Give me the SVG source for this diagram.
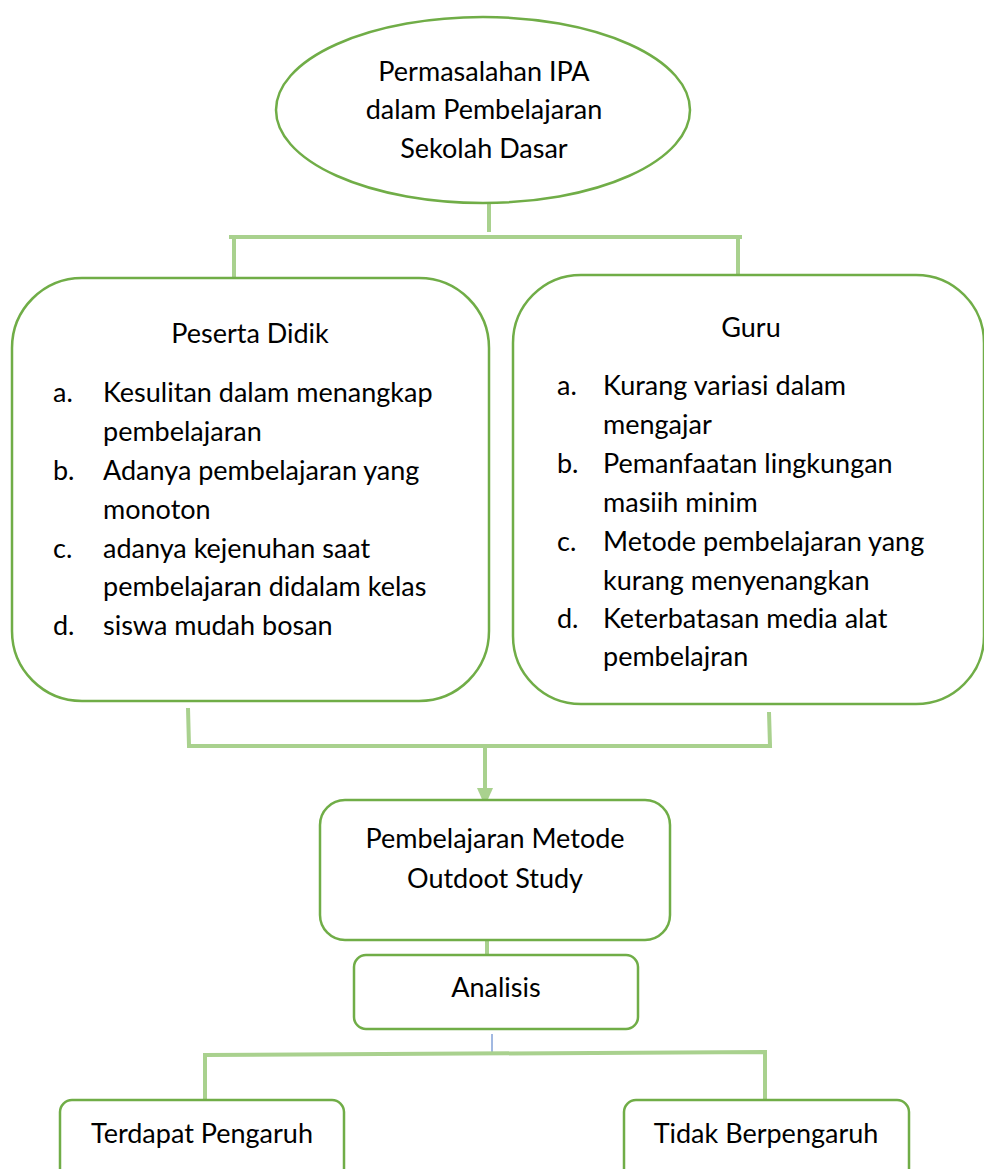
<svg xmlns="http://www.w3.org/2000/svg" width="984" height="1169" viewBox="0 0 984 1169">
<defs>
<style>
.box{fill:#fff;stroke:#70AD47;stroke-width:2.5}
.con{fill:none;stroke:#A9D18E;stroke-width:4}
text{font-family:Lato,"Liberation Sans",sans-serif;font-size:27px;fill:#000}
.c{text-anchor:middle}
</style>
</defs>
<rect width="984" height="1169" fill="#fff"/>
<g id="connectors">
<path class="con" d="M489,203 V232"/>
<path class="con" d="M229,237 H742"/>
<path class="con" d="M234,236 V277"/>
<path class="con" d="M738,236 V275"/>
<path class="con" d="M188,708 L189,746 H770 L769,712"/>
<path class="con" d="M485,746 V790"/>
<path d="M477,788 L493,788 L485,806 z" fill="#A9D18E"/>
<path class="con" d="M487,940 V955"/>
<path d="M492,1034 V1052" stroke="#4472C4" stroke-width="1" fill="none"/>
<path class="con" d="M205,1100 V1055 L765,1052 V1100"/>
</g>
<g id="node-top">
<ellipse class="box" cx="483" cy="110" rx="207" ry="93"/>
<text class="c" x="484" y="81">Permasalahan IPA</text>
<text class="c" x="484" y="119">dalam Pembelajaran</text>
<text class="c" x="484" y="158">Sekolah Dasar</text>
</g>
<g id="node-peserta">
<rect class="box" x="12" y="278" width="477" height="423" rx="70"/>
<text class="c" x="250" y="343">Peserta Didik</text>
<text x="53" y="402">a.</text><text x="103" y="402">Kesulitan dalam menangkap</text>
<text x="103" y="441">pembelajaran</text>
<text x="53" y="480">b.</text><text x="103" y="480">Adanya pembelajaran yang</text>
<text x="103" y="519">monoton</text>
<text x="53" y="558">c.</text><text x="103" y="558">adanya kejenuhan saat</text>
<text x="103" y="596">pembelajaran didalam kelas</text>
<text x="53" y="635">d.</text><text x="103" y="635">siswa mudah bosan</text>
</g>
<g id="node-guru">
<rect class="box" x="513" y="275" width="471" height="429" rx="68"/>
<text class="c" x="751" y="337">Guru</text>
<text x="557" y="395">a.</text><text x="603" y="395">Kurang variasi dalam</text>
<text x="603" y="434">mengajar</text>
<text x="557" y="473">b.</text><text x="603" y="473">Pemanfaatan lingkungan</text>
<text x="603" y="512">masiih minim</text>
<text x="557" y="551">c.</text><text x="603" y="551">Metode pembelajaran yang</text>
<text x="603" y="590">kurang menyenangkan</text>
<text x="557" y="628">d.</text><text x="603" y="628">Keterbatasan media alat</text>
<text x="603" y="666">pembelajran</text>
</g>
<g id="node-metode">
<rect class="box" x="320" y="800" width="350" height="140" rx="25"/>
<text class="c" x="495" y="848">Pembelajaran Metode</text>
<text class="c" x="495" y="888">Outdoot Study</text>
</g>
<g id="node-analisis">
<rect class="box" x="354" y="955" width="284" height="74" rx="12"/>
<text class="c" x="496" y="997">Analisis</text>
</g>
<g id="node-terdapat">
<rect class="box" x="60" y="1100" width="284" height="90" rx="12"/>
<text class="c" x="202" y="1143">Terdapat Pengaruh</text>
</g>
<g id="node-tidak">
<rect class="box" x="624" y="1100" width="285" height="90" rx="12"/>
<text class="c" x="766" y="1143">Tidak Berpengaruh</text>
</g>
</svg>
